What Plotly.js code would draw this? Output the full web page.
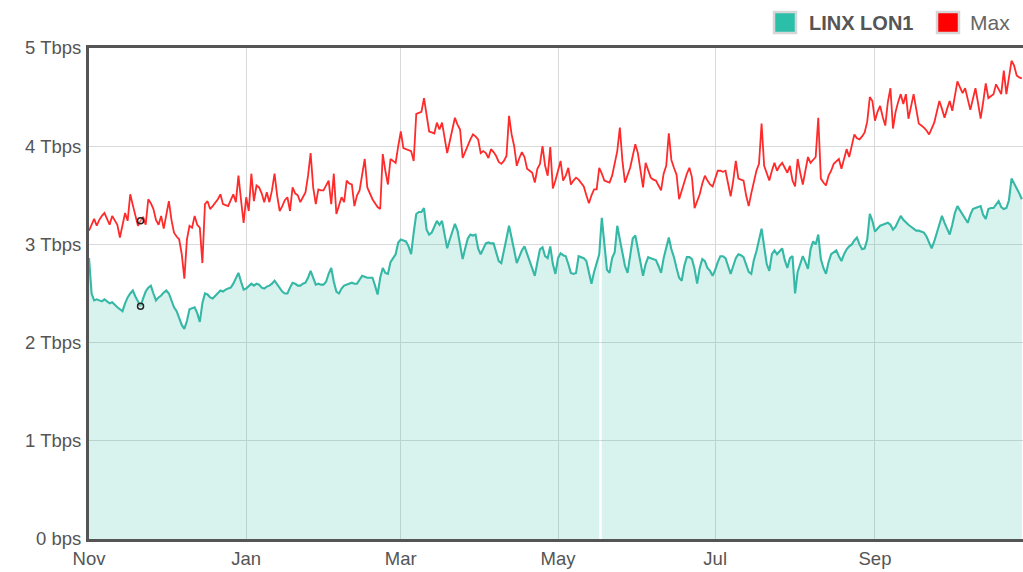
<!DOCTYPE html>
<html>
<head>
<meta charset="utf-8">
<script src="https://cdn.plot.ly/plotly-3.0.1.min.js"></script>
<style>
html,body{margin:0;padding:0;overflow:hidden;background:#fff;}
#chart{width:1030px;height:572px;}
</style>
</head>
<body>
<div id="chart"></div>
<script>
// ---- data ----
const startDate = '2019-11-01';
const seriesNames = ['LINX LON1', 'Max'];
const tickMonths = ['2019-11-01','2020-01-01','2020-03-01','2020-05-01','2020-07-01','2020-09-01'];
const tickMonthLabels = ['Nov','Jan','Mar','May','Jul','Sep'];
const yTickValues = [0,1,2,3,4,5];
const yTickLabels = ['0 bps','1 Tbps','2 Tbps','3 Tbps','4 Tbps','5 Tbps'];
const highlightIndex = 20;   // hovered day (Nov 21)
const gapAfterIndex = 198;   // fill break in LINX LON1 series

// LINX LON1 daily traffic, Tbps
const lon1 = [
2.86,2.50,2.43,2.44,2.43,2.42,2.44,2.42,2.40,2.41,
2.38,2.36,2.34,2.32,2.40,2.46,2.50,2.53,2.47,2.42,
2.37,2.45,2.52,2.56,2.58,2.50,2.43,2.46,2.48,2.51,
2.53,2.50,2.42,2.36,2.32,2.25,2.18,2.14,2.22,2.34,
2.35,2.36,2.30,2.21,2.40,2.50,2.49,2.46,2.45,2.48,
2.50,2.53,2.52,2.54,2.55,2.56,2.60,2.66,2.71,2.62,
2.54,2.55,2.58,2.60,2.58,2.60,2.59,2.56,2.55,2.57,
2.58,2.60,2.63,2.59,2.56,2.52,2.50,2.50,2.56,2.61,
2.60,2.58,2.58,2.60,2.61,2.66,2.73,2.65,2.59,2.60,
2.59,2.59,2.62,2.70,2.76,2.62,2.52,2.50,2.55,2.58,
2.59,2.60,2.61,2.60,2.60,2.64,2.68,2.67,2.66,2.66,
2.66,2.58,2.49,2.66,2.76,2.71,2.70,2.82,2.86,2.90,
3.02,3.05,3.04,3.03,2.98,2.90,3.12,3.31,3.33,3.33,
3.37,3.15,3.10,3.12,3.18,3.24,3.20,3.24,3.10,2.96,
3.05,3.14,3.21,3.14,3.00,2.85,2.96,3.06,3.10,3.09,
3.10,2.96,2.90,2.96,3.01,3.02,3.01,3.01,2.92,2.83,
2.81,2.92,3.06,3.19,3.08,2.94,2.81,2.88,2.94,2.98,
2.90,2.82,2.74,2.68,2.82,2.95,2.97,2.88,2.86,2.98,
2.80,2.70,2.86,2.91,2.89,2.88,2.80,2.71,2.70,2.71,
2.88,2.87,2.86,2.83,2.72,2.60,2.72,2.80,2.90,3.27,
2.98,2.74,2.71,2.86,2.92,3.19,3.05,2.90,2.78,2.71,
2.90,3.06,3.09,2.96,2.84,2.68,2.80,2.87,2.86,2.85,
2.84,2.78,2.71,2.86,2.98,3.07,2.95,2.87,2.76,2.66,
2.63,2.78,2.87,2.87,2.85,2.75,2.60,2.76,2.85,2.83,
2.76,2.73,2.68,2.74,2.82,2.88,2.88,2.86,2.78,2.70,
2.78,2.86,2.90,2.89,2.87,2.79,2.72,2.70,2.84,2.93,
3.06,3.16,2.98,2.80,2.73,2.90,2.94,2.90,2.93,2.96,
2.84,2.76,2.86,2.88,2.50,2.72,2.80,2.88,2.82,2.75,
2.95,3.03,3.00,3.10,2.85,2.76,2.70,2.82,2.90,2.92,
2.94,2.88,2.83,2.90,2.95,2.98,3.00,3.04,3.07,3.00,
2.95,2.96,3.05,3.31,3.24,3.13,3.16,3.19,3.20,3.21,
3.22,3.20,3.15,3.18,3.24,3.29,3.25,3.22,3.20,3.18,
3.16,3.14,3.14,3.13,3.12,3.08,3.02,2.96,3.03,3.12,
3.22,3.29,3.22,3.15,3.10,3.20,3.32,3.39,3.35,3.31,
3.26,3.22,3.30,3.36,3.37,3.38,3.39,3.30,3.26,3.36,
3.37,3.37,3.41,3.44,3.38,3.36,3.37,3.45,3.67,3.62,
3.58,3.52,3.46
];

// Max daily traffic, Tbps
const maxTraffic = [
3.14,3.20,3.26,3.19,3.25,3.29,3.32,3.26,3.20,3.29,
3.25,3.20,3.07,3.20,3.32,3.24,3.51,3.40,3.30,3.19,
3.24,3.28,3.20,3.46,3.42,3.36,3.25,3.20,3.29,3.16,
3.30,3.44,3.25,3.12,3.08,3.05,2.90,2.65,3.05,3.19,
3.17,3.29,3.20,3.17,2.81,3.41,3.44,3.36,3.39,3.42,
3.46,3.51,3.41,3.40,3.39,3.45,3.51,3.43,3.70,3.45,
3.22,3.48,3.34,3.72,3.44,3.60,3.58,3.52,3.43,3.53,
3.43,3.55,3.72,3.50,3.34,3.39,3.45,3.48,3.34,3.58,
3.52,3.50,3.43,3.48,3.53,3.70,3.93,3.58,3.41,3.56,
3.55,3.55,3.60,3.65,3.41,3.72,3.31,3.40,3.48,3.43,
3.65,3.62,3.61,3.39,3.50,3.55,3.70,3.87,3.58,3.52,
3.46,3.42,3.38,3.36,3.92,3.75,3.61,3.87,3.85,3.83,
4.00,4.15,3.98,3.97,3.96,3.95,3.85,4.33,4.34,4.35,
4.49,4.30,4.15,4.14,4.13,4.24,4.17,4.24,4.10,3.93,
4.05,4.18,4.29,4.22,4.17,3.88,3.95,4.01,4.07,4.12,
4.10,4.07,3.93,3.95,3.93,3.88,3.97,3.94,3.90,3.84,
3.82,3.85,3.90,4.31,4.12,4.00,3.80,3.88,3.94,3.89,
3.77,3.75,3.73,3.63,3.77,3.82,4.00,3.80,3.70,3.99,
3.57,3.65,3.75,3.85,3.65,3.70,3.78,3.61,3.65,3.68,
3.66,3.62,3.59,3.50,3.42,3.50,3.56,3.56,3.78,3.72,
3.65,3.64,3.63,3.70,3.82,3.95,4.19,3.85,3.63,3.70,
3.78,3.90,4.02,3.93,3.75,3.58,3.83,3.75,3.68,3.66,
3.65,3.60,3.55,3.72,3.80,4.13,3.86,3.78,3.71,3.46,
3.55,3.65,3.72,3.78,3.68,3.37,3.45,3.51,3.62,3.70,
3.65,3.61,3.59,3.66,3.75,3.75,3.74,3.75,3.62,3.49,
3.65,3.85,3.67,3.66,3.65,3.50,3.39,3.52,3.65,3.75,
3.82,4.23,3.80,3.72,3.65,3.75,3.83,3.75,3.80,3.83,
3.78,3.73,3.80,3.65,3.59,3.87,3.73,3.61,3.75,3.89,
3.83,3.86,3.89,4.29,3.67,3.63,3.60,3.70,3.75,3.82,
3.85,3.87,3.77,3.88,3.97,3.89,4.00,4.12,4.08,4.07,
4.10,4.14,4.25,4.50,4.46,4.26,4.35,4.41,4.30,4.21,
4.45,4.59,4.18,4.35,4.45,4.53,4.43,4.53,4.28,4.40,
4.53,4.38,4.23,4.21,4.19,4.16,4.12,4.18,4.24,4.35,
4.46,4.38,4.29,4.38,4.46,4.36,4.50,4.66,4.60,4.54,
4.59,4.48,4.37,4.48,4.59,4.44,4.28,4.45,4.64,4.49,
4.51,4.53,4.63,4.58,4.53,4.77,4.53,4.70,4.87,4.82,
4.72,4.70,4.69
];

// ---- build dates ----
function dayString(i){
  const d = new Date(startDate + 'T00:00:00Z');
  d.setUTCDate(d.getUTCDate() + i);
  return d.toISOString().slice(0,10);
}
const dates = lon1.map((_, i) => dayString(i));

const teal = '#35b8a6';
const tealFill = 'rgba(43,182,163,0.185)';
const red = '#ff2a2a';

const traces = [
  { x: dates.slice(0, gapAfterIndex + 1), y: lon1.slice(0, gapAfterIndex + 1),
    type: 'scatter', mode: 'none', fill: 'tozeroy', fillcolor: tealFill,
    showlegend: false, hoverinfo: 'skip' },
  { x: dates.slice(gapAfterIndex + 1), y: lon1.slice(gapAfterIndex + 1),
    type: 'scatter', mode: 'none', fill: 'tozeroy', fillcolor: tealFill,
    showlegend: false, hoverinfo: 'skip' },
  { x: dates, y: lon1, name: seriesNames[0], type: 'scatter', mode: 'lines',
    line: { color: teal, width: 2.1 }, showlegend: false },
  { x: dates, y: maxTraffic, name: seriesNames[1], type: 'scatter', mode: 'lines',
    line: { color: red, width: 1.8 }, showlegend: false },
  { x: [dates[highlightIndex], dates[highlightIndex]],
    y: [lon1[highlightIndex], maxTraffic[highlightIndex]],
    type: 'scatter', mode: 'markers', showlegend: false, hoverinfo: 'skip',
    marker: { size: 6, color: 'rgba(255,255,255,0.3)', line: { color: '#222', width: 1.5 } } }
];

const fontFam = '"Liberation Sans", Arial, Helvetica, sans-serif';
const W = 938, L = 89, T = 48, H = 491;
function px(x){ return (x - L) / W; }
function py(y){ return (T + H - y) / H; }

const layout = {
  width: 1030, height: 572,
  margin: { l: L, r: 3, t: T, b: 572 - T - H },
  paper_bgcolor: '#fff', plot_bgcolor: '#fff',
  font: { family: fontFam, color: '#555', size: 19 },
  showlegend: false,
  xaxis: {
    type: 'date', range: ['2019-11-01', '2020-10-30'],
    tickvals: tickMonths, ticktext: tickMonthLabels,
    showgrid: true, gridcolor: '#d9d9d9', gridwidth: 1,
    showline: true, mirror: true, linecolor: '#555', linewidth: 3,
    zeroline: false, ticks: '', ticklabelstandoff: 1,
    tickfont: { size: 18.5, color: '#555' }
  },
  yaxis: {
    range: [0, 5], tickvals: yTickValues, ticktext: yTickLabels,
    showgrid: true, gridcolor: '#d9d9d9', gridwidth: 1,
    showline: true, mirror: true, linecolor: '#555', linewidth: 3,
    zeroline: false, ticks: '', ticklabelstandoff: 1,
    tickfont: { size: 18.5, color: '#555' }
  },
  shapes: [
    { type: 'rect', xref: 'paper', yref: 'paper', x0: px(774), x1: px(796), y0: py(33), y1: py(12),
      fillcolor: '#2bbfaa', line: { color: '#d6d6d6', width: 2.5 }, layer: 'above' },
    { type: 'rect', xref: 'paper', yref: 'paper', x0: px(937), x1: px(959), y0: py(33), y1: py(12),
      fillcolor: '#ff0000', line: { color: '#d6d6d6', width: 2.5 }, layer: 'above' }
  ],
  annotations: [
    { xref: 'paper', yref: 'paper', x: px(807), y: py(22.5), xanchor: 'left', yanchor: 'middle',
      text: '<b>' + seriesNames[0] + '</b>', showarrow: false, font: { size: 20, color: '#555' } },
    { xref: 'paper', yref: 'paper', x: px(968), y: py(22.5), xanchor: 'left', yanchor: 'middle',
      text: seriesNames[1], showarrow: false, font: { size: 21, color: '#666' } }
  ]
};

Plotly.newPlot('chart', traces, layout, { displayModeBar: false, staticPlot: true });
</script>
</body>
</html>
